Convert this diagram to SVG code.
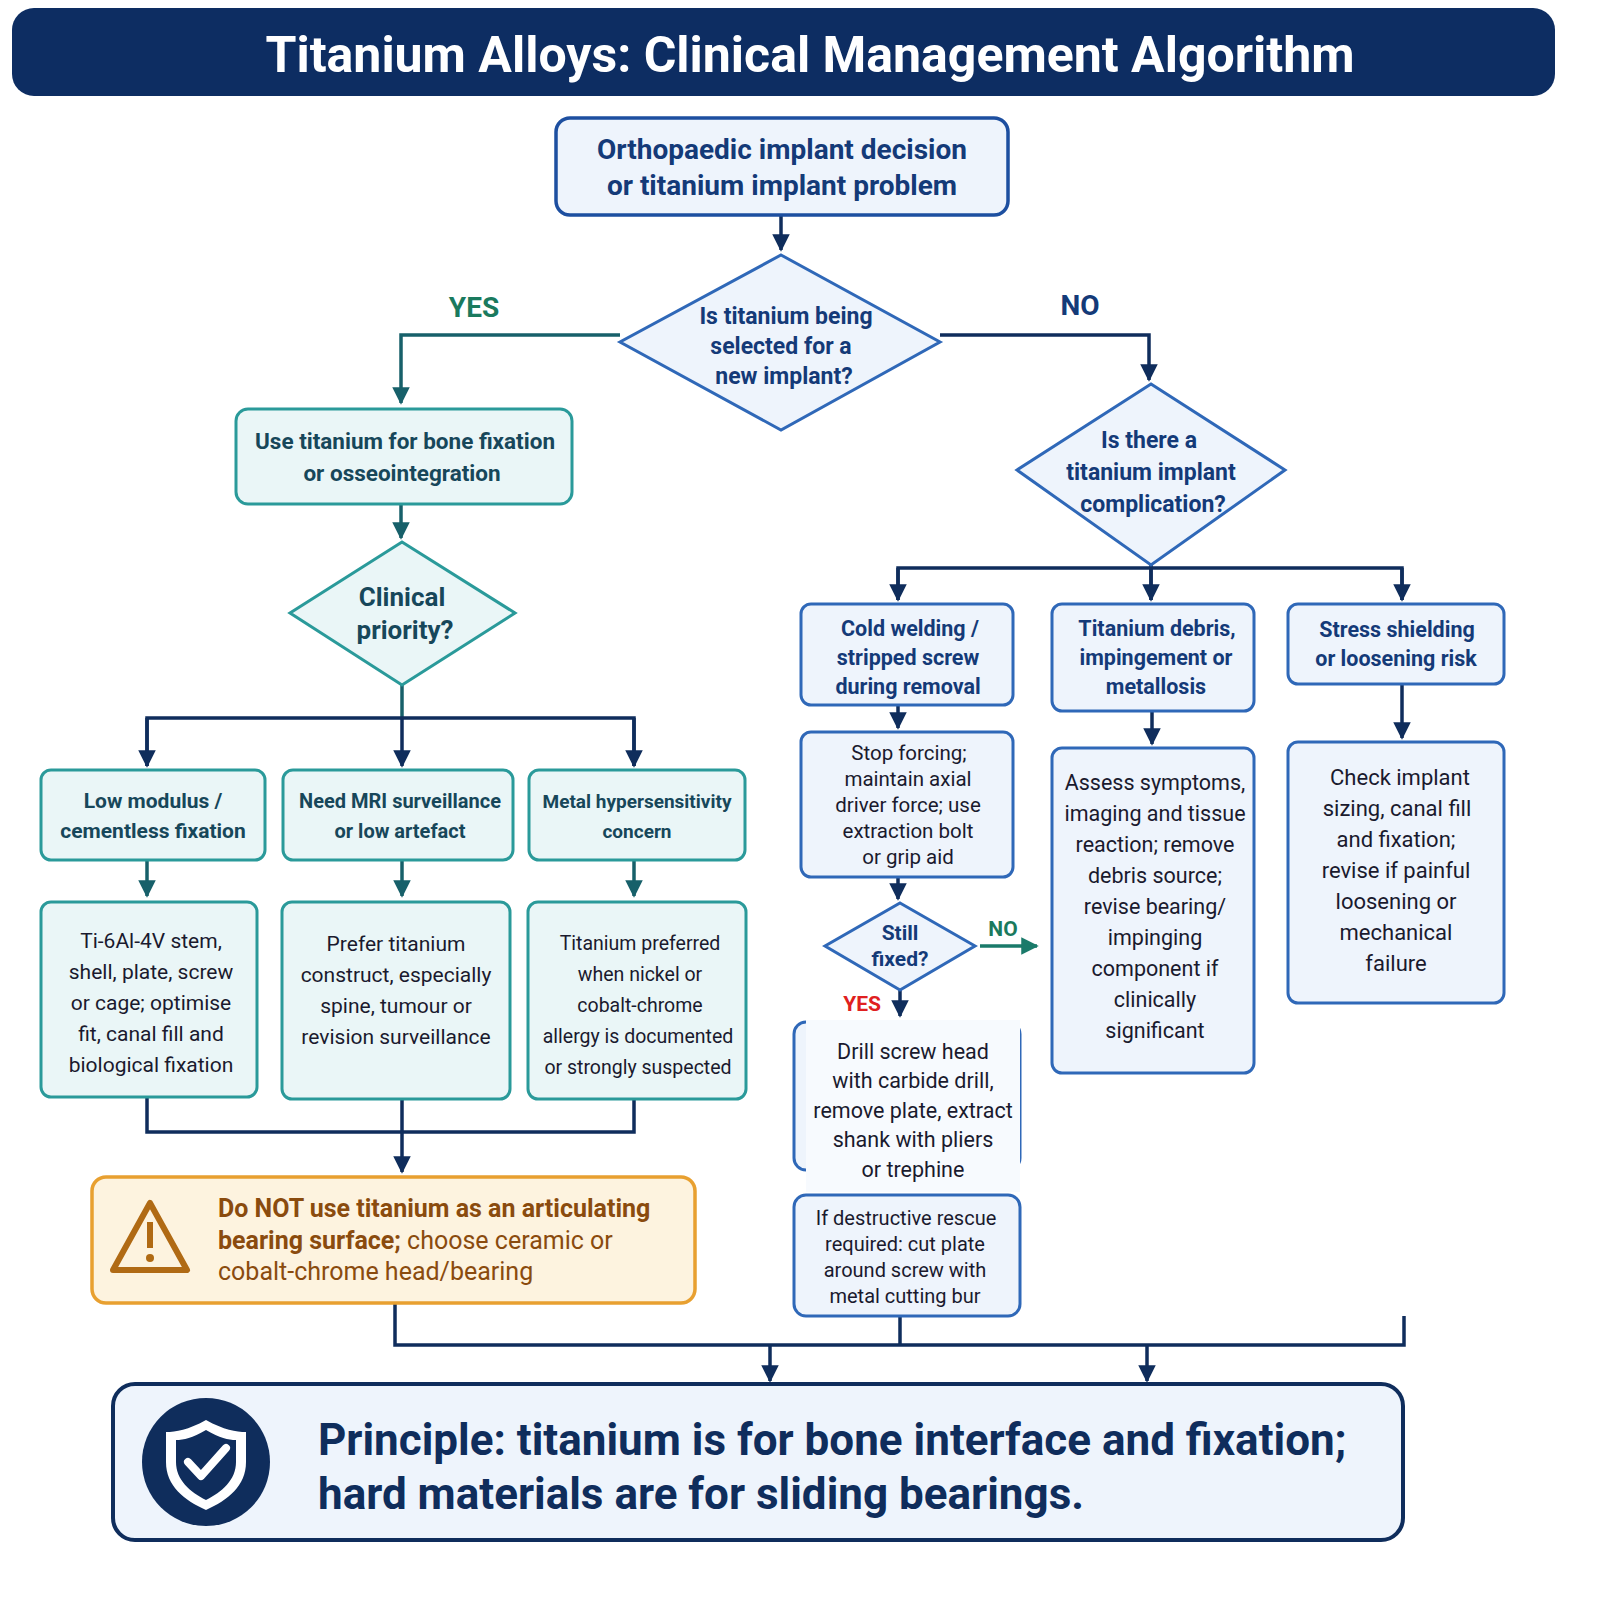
<svg xmlns="http://www.w3.org/2000/svg" width="1600" height="1600" viewBox="0 0 1600 1600">
<defs>
<marker id="ah" viewBox="0 0 10 10" refX="9" refY="5" markerWidth="5" markerHeight="5" orient="auto"><path d="M0,0L10,5L0,10z" fill="#0f2d5c"/></marker>
<marker id="ag" viewBox="0 0 10 10" refX="9" refY="5" markerWidth="5" markerHeight="5" orient="auto"><path d="M0,0L10,5L0,10z" fill="#1a7a6a"/></marker>
<marker id="at" viewBox="0 0 10 10" refX="9" refY="5" markerWidth="5" markerHeight="5" orient="auto"><path d="M0,0L10,5L0,10z" fill="#17606a"/></marker>
<style>
text{font-family:Roboto,"Liberation Sans",sans-serif;text-anchor:middle}
.b{fill:#eef4fc;stroke:#2f68b8;stroke-width:3}
.bs{fill:#eef4fc;stroke:#1d4fa0;stroke-width:3.5}
.t{fill:#eaf6f7;stroke:#2a9a9a;stroke-width:3}
.nv{fill:#143a78;font-weight:bold}
.tl{fill:#17475a;font-weight:bold}
.bd{fill:#1a1a2e}
.c{fill:none;stroke:#0f2d5c;stroke-width:3.5}
.ct{fill:none;stroke:#17606a;stroke-width:3.5}
</style>
</defs>
<rect width="1600" height="1600" fill="#fff"/>
<g id="title"><rect x="12" y="8" width="1543" height="88" rx="22" fill="#0d2d62"/><text x="810" y="72" font-size="50" font-weight="bold" fill="#fff">Titanium Alloys: Clinical Management Algorithm</text></g>
<g id="connectors">
<path class="c" d="M781,215V250" marker-end="url(#ah)"/>
<path class="ct" d="M620,335H401V403" marker-end="url(#at)"/>
<path class="c" d="M940,335H1149V380" marker-end="url(#ah)"/>
<path class="ct" d="M401,504V538" marker-end="url(#at)"/>
<path class="ct" d="M402,685V718"/>
<path class="c" d="M147,766V718H634V766M402,718V766" marker-end="url(#ah)"/>
<path class="c" d="M147,718V766" marker-end="url(#ah)"/>
<path class="c" d="M634,718V766" marker-end="url(#ah)"/>
<path class="ct" d="M147,860V896" marker-end="url(#at)"/>
<path class="ct" d="M402,860V896" marker-end="url(#at)"/>
<path class="ct" d="M634,860V896" marker-end="url(#at)"/>
<path class="c" d="M147,1097V1132H634V1099"/>
<path class="c" d="M402,1099V1172" marker-end="url(#ah)"/>
<path class="c" d="M1151,565V600"/>
<path class="c" d="M898,600V568H1402V600"/>
<path class="c" d="M898,568V600" marker-end="url(#ah)"/>
<path class="c" d="M1151,568V600" marker-end="url(#ah)"/>
<path class="c" d="M1402,568V600" marker-end="url(#ah)"/>
<path class="c" d="M898,705V728" marker-end="url(#ah)"/>
<path class="c" d="M1152,711V744" marker-end="url(#ah)"/>
<path class="c" d="M1402,684V738" marker-end="url(#ah)"/>
<path class="c" d="M898,877V899" marker-end="url(#ah)"/>
<path d="M980,946H1037" stroke="#1a7a6a" stroke-width="3.5" marker-end="url(#ag)"/>
<path class="c" d="M900,990V1016" marker-end="url(#ah)"/>
<path class="c" d="M395,1303V1345H1404V1316M900,1316V1345"/>
<path class="c" d="M770,1345V1381" marker-end="url(#ah)"/>
<path class="c" d="M1147,1345V1381" marker-end="url(#ah)"/>
</g>
<g id="start"><rect class="bs" x="556" y="118" width="452" height="97" rx="14"/><text class="nv" font-size="28" x="782" y="159">Orthopaedic implant decision</text><text class="nv" font-size="28" x="782" y="195">or titanium implant problem</text></g>
<g id="d1"><path class="b" d="M781,255L940,342L781,430L620,342Z"/><text class="nv" font-size="23" x="786" y="324">Is titanium being</text><text class="nv" font-size="23" x="781" y="354">selected for a</text><text class="nv" font-size="23" x="784" y="384">new implant?</text></g>
<text x="474" y="317" font-size="28" font-weight="bold" fill="#1a7a5e">YES</text>
<text x="1080" y="315" font-size="28" font-weight="bold" fill="#143a78">NO</text>
<g id="useTi"><rect class="t" x="236" y="409" width="336" height="95" rx="12"/><text class="tl" font-size="22.5" x="405" y="449">Use titanium for bone fixation</text><text class="tl" font-size="22.5" x="402" y="481">or osseointegration</text></g>
<g id="d2"><path class="t" d="M402,542L515,613L402,685L290,613Z"/><text class="tl" font-size="26" x="402" y="606">Clinical</text><text class="tl" font-size="26" x="405" y="639">priority?</text></g>
<g id="lm"><rect class="t" x="41" y="770" width="224" height="90" rx="10"/><text class="tl" font-size="21" x="153" y="808">Low modulus /</text><text class="tl" font-size="21" x="153" y="838">cementless fixation</text></g>
<g id="mri"><rect class="t" x="283" y="770" width="230" height="90" rx="10"/><text class="tl" font-size="20" x="400" y="808">Need MRI surveillance</text><text class="tl" font-size="20" x="400" y="838">or low artefact</text></g>
<g id="hyp"><rect class="t" x="529" y="770" width="216" height="90" rx="10"/><text class="tl" font-size="19" x="637" y="808">Metal hypersensitivity</text><text class="tl" font-size="19" x="637" y="838">concern</text></g>
<g id="ti6"><rect class="t" x="41" y="902" width="216" height="195" rx="10"/><g class="bd" font-size="21"><text x="151" y="948">Ti-6Al-4V stem,</text><text x="151" y="979">shell, plate, screw</text><text x="151" y="1010">or cage; optimise</text><text x="151" y="1041">fit, canal fill and</text><text x="151" y="1072">biological fixation</text></g></g>
<g id="pref"><rect class="t" x="282" y="902" width="228" height="197" rx="10"/><g class="bd" font-size="21"><text x="396" y="951">Prefer titanium</text><text x="396" y="982">construct, especially</text><text x="396" y="1013">spine, tumour or</text><text x="396" y="1044">revision surveillance</text></g></g>
<g id="tipref"><rect class="t" x="528" y="902" width="218" height="197" rx="10"/><g class="bd" font-size="19.5"><text x="640" y="950">Titanium preferred</text><text x="640" y="981">when nickel or</text><text x="640" y="1012">cobalt-chrome</text><text x="638" y="1043">allergy is documented</text><text x="638" y="1074">or strongly suspected</text></g></g>
<g id="warn"><rect x="92" y="1177" width="603" height="126" rx="14" fill="#fdf3df" stroke="#e8a030" stroke-width="3.5"/><path d="M150,1203L187,1270H113Z" fill="none" stroke="#b06a14" stroke-width="6" stroke-linejoin="round"/><rect x="147" y="1222" width="6" height="26" fill="#b06a14"/><circle cx="150" cy="1258" r="4" fill="#b06a14"/>
<g font-size="25" fill="#8a4b0e"><text x="218" y="1217" font-weight="bold" style="text-anchor:start">Do NOT use titanium as an articulating</text><text x="218" y="1249" style="text-anchor:start"><tspan font-weight="bold">bearing surface;</tspan> choose ceramic or</text><text x="218" y="1280" style="text-anchor:start">cobalt-chrome head/bearing</text></g></g>
<g id="d3"><path class="b" d="M1151,384L1285,470L1151,565L1017,470Z"/><text class="nv" font-size="23" x="1149" y="448">Is there a</text><text class="nv" font-size="23" x="1151" y="480">titanium implant</text><text class="nv" font-size="23" x="1153" y="512">complication?</text></g>
<g id="cold"><rect class="b" x="801" y="604" width="212" height="101" rx="10"/><text class="nv" font-size="21.5" x="910" y="636">Cold welding /</text><text class="nv" font-size="21.5" x="908" y="665">stripped screw</text><text class="nv" font-size="21.5" x="908" y="694">during removal</text></g>
<g id="debris"><rect class="b" x="1052" y="604" width="202" height="107" rx="10"/><text class="nv" font-size="21.5" x="1157" y="636">Titanium debris,</text><text class="nv" font-size="21.5" x="1156" y="665">impingement or</text><text class="nv" font-size="21.5" x="1156" y="694">metallosis</text></g>
<g id="stress"><rect class="b" x="1288" y="604" width="216" height="80" rx="10"/><text class="nv" font-size="21.5" x="1397" y="637">Stress shielding</text><text class="nv" font-size="21.5" x="1396" y="666">or loosening risk</text></g>
<g id="stop"><rect class="b" x="801" y="732" width="212" height="145" rx="10"/><g class="bd" font-size="20.5"><text x="909" y="760">Stop forcing;</text><text x="908" y="786">maintain axial</text><text x="908" y="812">driver force; use</text><text x="908" y="838">extraction bolt</text><text x="908" y="864">or grip aid</text></g></g>
<g id="assess"><rect class="b" x="1052" y="748" width="202" height="325" rx="10"/><g class="bd" font-size="21.5"><text x="1155" y="790">Assess symptoms,</text><text x="1155" y="821">imaging and tissue</text><text x="1155" y="852">reaction; remove</text><text x="1155" y="883">debris source;</text><text x="1155" y="914">revise bearing/</text><text x="1155" y="945">impinging</text><text x="1155" y="976">component if</text><text x="1155" y="1007">clinically</text><text x="1155" y="1038">significant</text></g></g>
<g id="check"><rect class="b" x="1288" y="742" width="216" height="261" rx="10"/><g class="bd" font-size="22"><text x="1400" y="785">Check implant</text><text x="1397" y="816">sizing, canal fill</text><text x="1396" y="847">and fixation;</text><text x="1396" y="878">revise if painful</text><text x="1396" y="909">loosening or</text><text x="1396" y="940">mechanical</text><text x="1396" y="971">failure</text></g></g>
<g id="d4"><path class="b" d="M900,903L975,946L900,990L825,946Z"/><text class="nv" font-size="21" x="900" y="940">Still</text><text class="nv" font-size="21" x="900" y="966">fixed?</text></g>
<text x="1003" y="936" font-size="21" font-weight="bold" fill="#1a7a5e">NO</text>
<text x="862" y="1011" font-size="21" font-weight="bold" fill="#e02020">YES</text>
<g id="drill"><rect class="b" x="794" y="1022" width="226" height="148" rx="12"/><rect x="806" y="1020" width="214" height="172" fill="#f7fafe"/><g fill="#1a1a2e" font-size="21.5" style="font-family:'Liberation Sans',Arial,sans-serif"><text x="913" y="1059">Drill screw head</text><text x="913" y="1088">with carbide drill,</text><text x="913" y="1118">remove plate, extract</text><text x="913" y="1147">shank with pliers</text><text x="913" y="1177">or trephine</text></g></g>
<g id="destr"><rect class="b" x="794" y="1195" width="226" height="121" rx="12"/><g class="bd" font-size="20"><text x="906" y="1225">If destructive rescue</text><text x="905" y="1251">required: cut plate</text><text x="905" y="1277">around screw with</text><text x="905" y="1303">metal cutting bur</text></g></g>
<g id="principle"><rect x="113" y="1384" width="1290" height="156" rx="22" fill="#eef4fc" stroke="#0f2d5c" stroke-width="4"/><circle cx="206" cy="1462" r="64" fill="#0f2d5c"/><path d="M206,1420C224,1430 236,1432 246,1432V1462C246,1486 228,1500 206,1510C184,1500 166,1486 166,1462V1432C176,1432 188,1430 206,1420Z" fill="#fff"/><path d="M206,1430C220,1438 228,1440 236,1440V1462C236,1480 222,1492 206,1500C190,1492 176,1480 176,1462V1440C184,1440 192,1438 206,1430Z" fill="#0f2d5c"/><path d="M188,1462L201,1476L226,1448" fill="none" stroke="#fff" stroke-width="8" stroke-linecap="round" stroke-linejoin="round"/>
<text x="318" y="1455" font-size="44" font-weight="bold" fill="#0f2d5c" style="text-anchor:start">Principle:  titanium is for bone interface and fixation;</text><text x="318" y="1509" font-size="44" font-weight="bold" fill="#0f2d5c" style="text-anchor:start">hard materials are for sliding bearings.</text></g>
</svg>
